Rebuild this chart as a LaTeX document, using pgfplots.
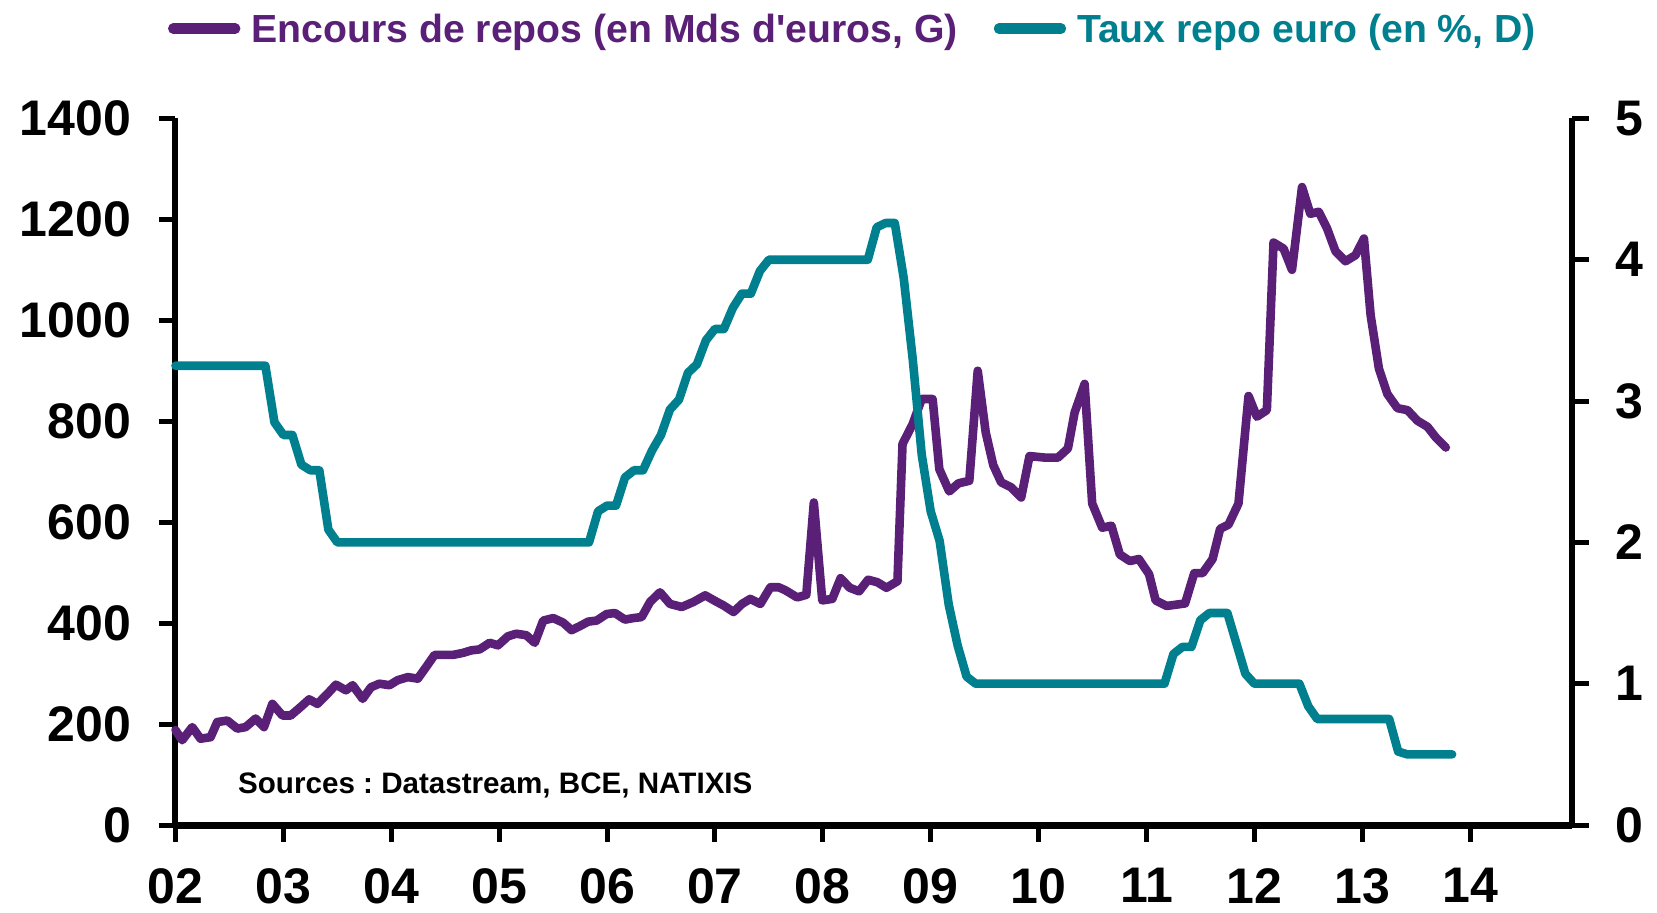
\documentclass[border=0pt]{standalone}
\usepackage{fontspec}
\setmainfont{Liberation Sans}
\usepackage{pgfplots}
\pgfplotsset{compat=1.18}
\definecolor{cpurple}{HTML}{5A1F76}
\definecolor{cteal}{HTML}{00808F}
\frenchspacing
\begin{document}
\begin{tikzpicture}
\pgfplotsset{
  common/.style={
    scale only axis, width=698pt, height=353.3pt,
    xmin=0, xmax=12.94,
    /pgf/number format/assume math mode=true,
    /pgf/number format/1000 sep={},
    tick align=outside,
    major tick length=8.5pt,
    axis line style={line width=3pt,-},
    tick style={line width=2.5pt,black,line cap=butt},
    ticklabel style={font=\bfseries\fontsize{25}{25}\selectfont, inner sep=1pt},
    yticklabel style={inner xsep=13.5pt},
    clip=false,
  }
}
\begin{axis}[common,
  ymin=0, ymax=1400,
  axis x line*=bottom, axis y line*=left,
  xtick={0,1,...,12}, xticklabels={02,03,04,05,06,07,08,09,10,11,12,13,14},
  ytick={0,200,...,1400},
  xticklabel style={yshift=-12pt},
  x axis line style={line width=3.5pt},
]
\addplot[cpurple, line width=4.3pt, line join=round, line cap=round] coordinates {
(0.0,188)(0.062,168)(0.155,194)(0.232,171)(0.325,174)(0.387,204)(0.48,207)(0.573,191)(0.65,194)(0.743,211)
(0.82,194)(0.898,240)(0.991,217)(1.068,217)(1.161,234)(1.239,249)(1.316,240)(1.409,260)(1.487,278)(1.58,267)
(1.642,277)(1.735,250)(1.812,273)(1.89,280)(1.983,277)(2.06,287)(2.153,293)(2.246,290)(2.323,313)(2.401,337)
(2.494,337)(2.571,337)(2.664,341)(2.741,346)(2.819,348)(2.912,361)(2.989,356)(3.082,374)(3.159,379)(3.252,376)
(3.33,361)(3.408,405)(3.501,410)(3.593,401)(3.671,386)(3.748,394)(3.826,403)(3.903,405)(3.996,418)(4.073,420)
(4.166,407)(4.244,410)(4.321,412)(4.399,442)(4.491,461)(4.584,438)(4.693,432)(4.801,442)(4.91,455)(5.018,442)
(5.08,435)(5.173,422)(5.251,438)(5.328,448)(5.421,438)(5.514,471)(5.592,471)(5.654,465)(5.762,451)(5.847,456)
(5.917,639)(5.995,445)(6.088,448)(6.165,489)(6.25,470)(6.336,463)(6.42,486)(6.506,481)(6.59,470)(6.692,483)
(6.739,755)(6.832,794)(6.917,844)(7.018,844)(7.08,705)(7.172,661)(7.258,677)(7.358,682)(7.436,900)(7.51,778)
(7.58,713)(7.653,679)(7.746,669)(7.839,649)(7.916,731)(8.056,728)(8.18,728)(8.272,746)(8.334,817)(8.427,874)
(8.497,637)(8.59,589)(8.675,593)(8.753,536)(8.846,523)(8.93,527)(9.024,497)(9.085,445)(9.187,434)(9.358,439)
(9.443,499)(9.52,499)(9.613,527)(9.683,587)(9.76,595)(9.853,637)(9.946,850)(10.023,809)(10.116,822)(10.178,1154)
(10.271,1142)(10.349,1100)(10.442,1264)(10.519,1211)(10.597,1215)(10.674,1182)(10.752,1137)(10.845,1117)(10.938,1129)(11.016,1162)
(11.078,1010)(11.155,904)(11.233,854)(11.326,826)(11.419,822)(11.512,801)(11.605,789)(11.682,768)(11.775,748)
};
\node[anchor=west, font=\bfseries\fontsize{14.8}{15}\selectfont, inner sep=0pt] at (axis description cs:0.0446,0.056) {Sources : Datastream, BCE, NATIXIS};
\end{axis}
\begin{axis}[common,
  ymin=0, ymax=5,
  axis x line=none, axis y line*=right,
  ytick={0,1,...,5},
  legend style={at={(axis description cs:0.4846,1.127)}, anchor=center, draw=none, fill=none,
    font=\bfseries\fontsize{19.6}{22}\selectfont, inner sep=0pt,
    /tikz/every even column/.append style={column sep=18pt},
    nodes={inner sep=0pt, text depth=0pt}},
  legend columns=2,
  legend image code/.code={\draw[#1, line width=5.2pt, line cap=round] (0pt,0pt) -- (31pt,0pt);},
]
\addlegendimage{cpurple}
\addlegendentry{\hspace{5.5pt}\textcolor{cpurple}{Encours de repos (en Mds d\textquotesingle euros, G)}}
\addplot[cteal, line width=4.3pt, line join=round, line cap=round] coordinates {
(0,3.25)(0.833,3.25)(0.917,2.85)(1.0,2.76)(1.083,2.76)(1.167,2.55)(1.25,2.51)(1.333,2.51)(1.417,2.09)(1.5,2.0)
(3.833,2.0)(3.917,2.22)(4.0,2.26)(4.083,2.26)(4.167,2.46)(4.25,2.51)(4.333,2.51)(4.417,2.65)(4.5,2.76)(4.583,2.94)
(4.667,3.01)(4.75,3.2)(4.833,3.26)(4.917,3.43)(5.0,3.51)(5.083,3.51)(5.167,3.66)(5.25,3.76)(5.333,3.76)(5.417,3.92)
(5.5,4.0)(6.417,4.0)(6.5,4.23)(6.583,4.26)(6.667,4.26)(6.75,3.87)(6.833,3.30)(6.917,2.62)(7.0,2.22)(7.083,2.01)
(7.167,1.56)(7.25,1.27)(7.333,1.05)(7.417,1.0)(9.167,1.0)(9.25,1.21)(9.333,1.26)(9.417,1.26)(9.5,1.45)(9.583,1.5)
(9.75,1.5)(9.917,1.07)(10.0,1.0)(10.417,1.0)(10.5,0.84)(10.583,0.75)(11.25,0.75)(11.333,0.52)(11.417,0.5)(11.833,0.5)
};
\addlegendentry{\hspace{5.5pt}\textcolor{cteal}{Taux repo euro (en \%, D)}}
\end{axis}
\pgfresetboundingbox
\path ([xshift=-87.75pt,yshift=-43.5pt]current axis.south west) rectangle ([xshift=740.75pt,yshift=412.5pt]current axis.south west);
\end{tikzpicture}
\end{document}
